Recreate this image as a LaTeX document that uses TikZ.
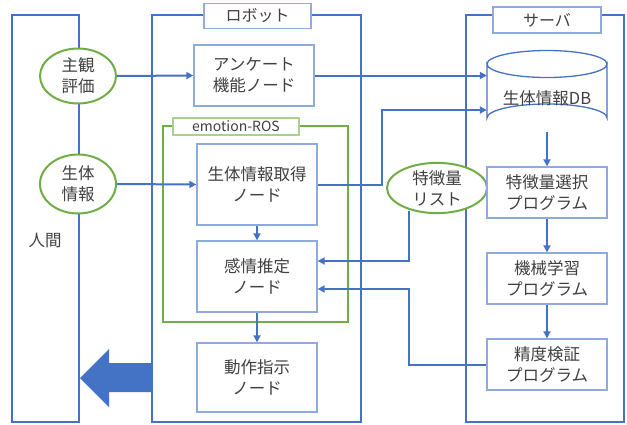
\documentclass[tikz,border=0pt]{standalone}
\usepackage{fontspec}
\setmainfont{Noto Sans CJK JP}
\usetikzlibrary{arrows.meta,shapes.geometric,shapes.arrows}
\definecolor{fblue}{HTML}{4472C4}
\definecolor{lblue}{HTML}{8FAADC}
\definecolor{fgreen}{HTML}{70AD47}
\definecolor{lgreen}{HTML}{A9D18E}
\definecolor{txt}{HTML}{404040}
\tikzset{
  frame/.style={draw=fblue,line width=2pt},
  gframe/.style={draw=fgreen,line width=2pt},
  box/.style={draw=lblue,line width=1.3pt,fill=white,text=txt,align=center,inner sep=0pt,
    font=\fontsize{16.5}{21}\selectfont},
  lab/.style={draw=lblue,line width=1.3pt,fill=white,text=txt,inner sep=0pt,font=\fontsize{16}{20}\selectfont},
  glab/.style={draw=lgreen,line width=1.3pt,fill=white,text=txt,inner sep=0pt,font=\fontsize{14}{18}\selectfont},
  oval/.style={ellipse,draw=fgreen,line width=2pt,fill=white,text=txt,align=center,inner sep=0pt,
    font=\fontsize{16.5}{21}\selectfont},
  conn/.style={draw=fblue,line width=2pt,-{Triangle[length=7pt,width=7pt]}},
  plain/.style={draw=fblue,line width=2pt},
}
\begin{document}
\begin{tikzpicture}[x=1pt,y=-1pt]
\useasboundingbox (0,0) rectangle (627,424);
% frames
\draw[frame] (12,422) -- (12,15) -- (79,15) -- (79,422) -- cycle;
\draw[frame] (152,422) -- (152,15) -- (361,15) -- (361,422) -- cycle;
\draw[frame] (466,422) -- (466,15) -- (624,15) -- (624,422) -- cycle;
\draw[gframe] (163,126) rectangle (348,322);
% labels
\node[lab,minimum width=107pt,minimum height=25pt] (lrobot) at (257.5,16) {ロボット};
\node[lab,minimum width=108pt,minimum height=26pt] (lserver) at (547,20) {サーバ};
\node[glab,minimum width=126pt,minimum height=17pt] (lros) at (236,126.5) {emotion-ROS};
\node[text=txt,font=\fontsize{16.5}{21}\selectfont] (human) at (45,240) {人間};
% ellipses
\node[oval,minimum width=76pt,minimum height=55pt] (subj) at (78,76) {主観\\評価};
\node[oval,minimum width=76pt,minimum height=59pt] (bio) at (78,184) {生体\\情報};
\node[oval,minimum width=100pt,minimum height=50pt] (feat) at (437,188) {特徴量\\リスト};
% robot nodes
\node[box,minimum width=120pt,minimum height=61pt] (survey) at (254,75.5) {アンケート\\機能ノード};
\node[box,minimum width=120pt,minimum height=81pt] (acq) at (257,184.5) {生体情報取得\\ノード};
\node[box,minimum width=120pt,minimum height=71pt] (emo) at (257,276.5) {感情推定\\ノード};
\node[box,minimum width=120pt,minimum height=69pt] (act) at (257,377.5) {動作指示\\ノード};
% server nodes
\node[box,minimum width=120pt,minimum height=51pt] (fsel) at (547,192.5) {特徴量選択\\プログラム};
\node[box,minimum width=120pt,minimum height=51pt] (ml) at (547,278.5) {機械学習\\プログラム};
\node[box,minimum width=120pt,minimum height=51pt] (acc) at (547,364.5) {精度検証\\プログラム};
% DB cylinder
\path[draw=fblue,line width=1.3pt,fill=white] (487,64) -- (487,118) arc[start angle=180,end angle=360,x radius=60,y radius=14] -- (607,64) arc[start angle=0,end angle=180,x radius=60,y radius=13.5] -- cycle;
\draw[fblue,line width=1.3pt] (487,64) arc[start angle=180,end angle=360,x radius=60,y radius=13.5];
\node[text=txt,font=\fontsize{16.5}{21}\selectfont,minimum width=120pt,minimum height=82pt,inner sep=0pt] (db) at (547,91) {};
\node[text=txt,font=\fontsize{16.5}{21}\selectfont] (dbt) at (547,98) {生体情報DB};
% connectors
\draw[conn] (subj.east) -- (survey.west);
\draw[conn] (bio.east) -- (acq.west);
\draw[conn] (survey.east) -- (db.west |- survey.east);
\draw[conn] (acq.east) -- (382,184.5) -- (382,110) -- (db.west |- 0,110);
\draw[conn] (acq.south) -- (emo.north);
\draw[conn] (emo.south) -- (act.north);
\draw[conn] (db.south) -- (fsel.north);
\draw[conn] (fsel.south) -- (ml.north);
\draw[conn] (ml.south) -- (acc.north);
\coordinate (fb) at (409,211);
\draw[conn] (fb) -- (409,261) -- (emo.east |- 0,261);
\draw[conn] (acc.west |- 0,365) -- (409,365) -- (409,289) -- (emo.east |- 0,289);
% big arrow
\fill[fblue] (152,363) -- (109,363) -- (109,349) -- (80,378) -- (109,407) -- (109,392) -- (152,392) -- cycle;
\end{tikzpicture}
\end{document}
